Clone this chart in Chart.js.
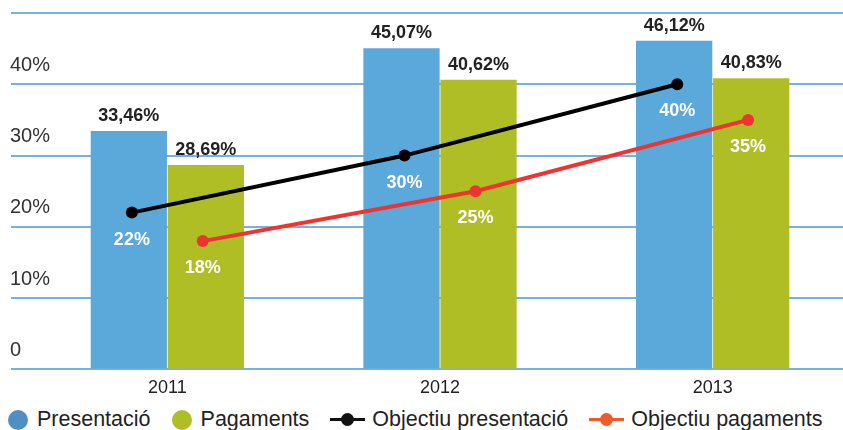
<!DOCTYPE html>
<html>
<head>
<meta charset="utf-8">
<script src="https://cdn.jsdelivr.net/npm/chart.js@4.4.1/dist/chart.umd.min.js"></script>
<style>
  body { margin: 0; overflow: hidden; background: #fff; }
  #wrap { position: relative; width: 855px; height: 407px; }
  #legend { position: absolute; left: 8px; top: 407px; display: flex; align-items: center;
            font-family: "Liberation Sans", Arial, sans-serif; font-size: 21.5px; color: #222; white-space: nowrap; }
  #legend .item { display: flex; align-items: center; margin-right: 21px; }
  #legend .dot { width: 20px; height: 20px; border-radius: 50%; margin-right: 9px; }
  #legend .mark { position: relative; width: 35px; height: 13px; margin-right: 7px; }
  #legend .mark .ln { position: absolute; left: 0; right: 0; top: 5px; height: 3px; }
  #legend .mark .pt { position: absolute; left: 11px; top: 0; width: 13px; height: 13px; border-radius: 50%; }
</style>
</head>
<body>
<div id="wrap"><canvas id="chart"></canvas></div>
<div id="legend"></div>
<script>
var years = ['2011', '2012', '2013'];
var presentacio = [33.46, 45.07, 46.12];
var pagaments = [28.69, 40.62, 40.83];
var objPresentacio = [22, 30, 40];
var objPagaments = [18, 25, 35];
var yTicks = [0, 10, 20, 30, 40, 50];

// share of a year's slot taken by the two bars, and where the target points sit
var groupPct = 0.565;
var barShift = groupPct / 4;
var lineShift = 0.13;

function atYear(values, shift){
    var pts = [];
    for(var i = 0; i < values.length; i++){
        pts.push({x: i + shift, y: values[i]});
    }
    return pts;
}

var labelPlugin = {
    id: 'valueLabels',
    afterDatasetsDraw: function(chart){
        var ctx = chart.ctx;
        ctx.save();
        ctx.font = 'bold 18px "Liberation Sans", Arial, sans-serif';
        ctx.textAlign = 'center';
        ctx.textBaseline = 'middle';
        chart.data.datasets.forEach(function(ds, di){
            var meta = chart.getDatasetMeta(di);
            meta.data.forEach(function(el, i){
                var v = ds.data[i].y;
                if(ds.type == 'line'){
                    ctx.fillStyle = '#fff';
                    ctx.fillText(v + '%', el.x, el.y + 27);
                }
                else{
                    ctx.fillStyle = '#222';
                    ctx.fillText(v.toFixed(2).replace('.', ',') + '%', el.x, el.y - 15);
                }
            });
        });
        ctx.restore();
    }
};

var series = [
    {label: 'Presentació', type: 'bar', data: presentacio, color: '#5ba8db', legend: '#4f8fc2', shift: -barShift},
    {label: 'Pagaments', type: 'bar', data: pagaments, color: '#b0be26', legend: '#b0be26', shift: barShift},
    {label: 'Objectiu presentació', type: 'line', data: objPresentacio, color: '#000000', legend: '#111111', shift: -lineShift},
    {label: 'Objectiu pagaments', type: 'line', data: objPagaments, color: '#ee3330', legend: '#f05a28', shift: lineShift}
];

var datasets = series.map(function(s){
    if(s.type == 'bar'){
        return {
            type: 'bar', label: s.label, data: atYear(s.data, s.shift), backgroundColor: s.color,
            borderWidth: 0, grouped: false, categoryPercentage: 1, barPercentage: 0.99, order: 1
        };
    }
    return {
        type: 'line', label: s.label, data: atYear(s.data, s.shift),
        borderColor: s.color, backgroundColor: s.color, borderWidth: 4,
        pointRadius: 6, pointBorderWidth: 0, pointBackgroundColor: s.color, tension: 0, order: 0
    };
});

Chart.defaults.font.family = '"Liberation Sans", Arial, sans-serif';

var ctx = document.getElementById('chart').getContext('2d');
var myChart = new Chart(ctx, {
    type: 'bar',
    data: { datasets: datasets },
    options: {
        responsive: true,
        maintainAspectRatio: false,
        animation: false,
        layout: { padding: { top: 13, left: 0, right: 0, bottom: 0 } },
        plugins: { legend: { display: false }, tooltip: { enabled: false } },
        scales: {
            x: {
                type: 'linear', offset: false,
                min: -0.5, max: years.length - 0.5,
                afterBuildTicks: function(axis){
                    axis.ticks = years.map(function(y, i){ return {value: i}; });
                },
                grid: { display: false, drawTicks: false },
                border: { display: false },
                ticks: {
                    color: '#222', font: { size: 18 }, padding: 8,
                    callback: function(v){ return years[v]; }
                }
            },
            y: {
                min: yTicks[0], max: yTicks[yTicks.length - 1],
                afterBuildTicks: function(axis){
                    axis.ticks = yTicks.map(function(v){ return {value: v}; });
                },
                afterFit: function(axis){ axis.width = 31; },
                grid: { color: '#73b2e1', lineWidth: 2, drawTicks: true, tickLength: 20 },
                border: { display: false },
                ticks: {
                    mirror: true, padding: -21, labelOffset: -19, color: '#333',
                    font: { size: 20 },
                    callback: function(v, idx, ticks){
                        if(idx == ticks.length - 1) return '';
                        return v == 0 ? '0' : v + '%';
                    }
                }
            }
        }
    },
    plugins: [labelPlugin]
});

var legend = document.getElementById('legend');
series.forEach(function(s){
    var item = document.createElement('span');
    item.className = 'item';
    if(s.type == 'bar'){
        item.innerHTML = '<i class="dot" style="background:' + s.legend + '"></i>';
    }
    else{
        item.innerHTML = '<i class="mark"><i class="ln" style="background:' + s.legend + '"></i><i class="pt" style="background:' + s.legend + '"></i></i>';
    }
    item.appendChild(document.createTextNode(s.label));
    legend.appendChild(item);
});
</script>
</body>
</html>
